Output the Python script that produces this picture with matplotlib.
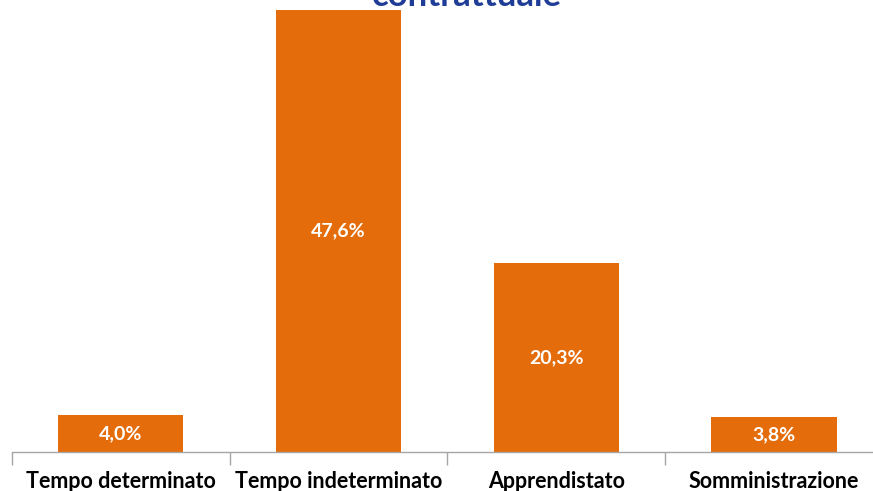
import matplotlib.pyplot as plt

# Share of hires by contract type (%)
categories = ["Tempo determinato", "Tempo indeterminato", "Apprendistato", "Somministrazione"]
values = [4.0, 47.6, 20.3, 3.8]

bar_color = "#E46C0A"
title_color = "#1F3C96"

plt.rcParams["font.family"] = ["Lato", "DejaVu Sans"]

fig = plt.figure(figsize=(8.73, 4.91), dpi=100)
ax = fig.add_axes([12 / 873, 39 / 491, 870.8 / 873, 464.5 / 491])

x = list(range(len(categories)))
bars = ax.bar(x, values, width=0.575, color=bar_color, zorder=2)

# value labels inside each bar, centred vertically
for rect, v in zip(bars, values):
    ax.text(rect.get_x() + rect.get_width() / 2, v / 2,
            f"{v:.1f}%".replace(".", ","),
            ha="center", va="center", color="white",
            fontsize=14, fontweight="bold")

ax.set_xlim(-0.5, len(categories) - 0.5)
ax.set_ylim(0, 50)

# category separators as ticks between bars
ax.set_xticks([i - 0.5 for i in range(len(categories) + 1)], minor=True)
ax.tick_params(axis="x", which="minor", length=9, width=1, color="#A6A6A6")
ax.set_xticks(x)
ax.set_xticklabels(categories, fontsize=15.5, fontweight="bold", color="black")
ax.tick_params(axis="x", which="major", length=0, pad=14)

ax.set_yticks([])
for side in ["left", "right", "top"]:
    ax.spines[side].set_visible(False)
ax.spines["bottom"].set_color("#A6A6A6")
ax.spines["bottom"].set_linewidth(1)

fig.text(0.535, 1 - 6 / 491, "contrattuale", ha="center", va="baseline",
         fontsize=25, fontweight="bold", color=title_color)

fig.savefig("out.png", dpi=100)
